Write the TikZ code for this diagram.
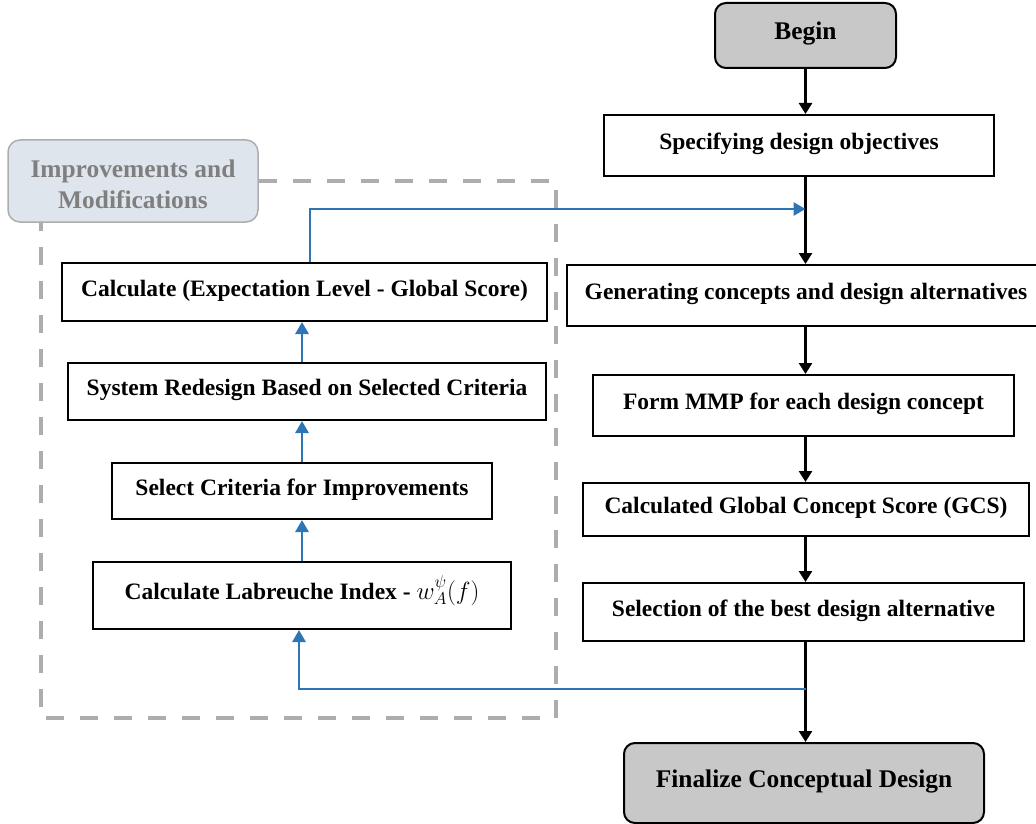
\documentclass[tikz,border=0pt]{standalone}
\usepackage{fontspec}
\setmainfont{Liberation Serif}
\usetikzlibrary{arrows.meta}
\definecolor{termgray}{HTML}{C8C8C8}
\definecolor{notefill}{HTML}{DFE5EC}
\definecolor{notetext}{HTML}{7F7F7F}
\definecolor{framegray}{HTML}{ADADAD}
\definecolor{loopblue}{HTML}{2E75B6}
\begin{document}
\begin{tikzpicture}[x=1pt,y=-1pt,font=\bfseries\fontsize{23.5}{31}\selectfont]
\tikzstyle{box}=[draw,line width=2pt,text height=17pt,text depth=9pt,inner sep=0pt]
\tikzstyle{term}=[box,fill=termgray,rounded corners=11pt,font=\bfseries\fontsize{25.4}{31}\selectfont]
\tikzstyle{note}=[draw=framegray,line width=1.5pt,fill=notefill,text=notetext,rounded corners=12pt,align=center,inner sep=0pt,text height=60pt,text depth=5pt,font=\bfseries\fontsize{25.4}{31}\selectfont]
\tikzstyle{frame}=[draw=framegray,line width=4pt,dash pattern=on 18pt off 16pt]
\tikzstyle{flow}=[line width=2.6pt,-{Triangle[width=13pt,length=11pt]}]
\tikzstyle{back}=[color=loopblue,line width=2.8pt,-{Triangle[width=13pt,length=12pt]}]
\useasboundingbox (0,0) rectangle (1036,824);

% Right column
\node[term,minimum width=181pt,minimum height=65pt] (begin) at (805.5,35.5) {Begin};
\node[box,minimum width=390pt,minimum height=61pt] (spec) at (799,145.5) {Specifying design objectives};
\node[box,minimum width=478pt,minimum height=61pt] (gen) at (806,295.5) {Generating concepts and design alternatives};
\node[box,minimum width=421pt,minimum height=61pt] (mmp) at (803.5,405.5) {Form MMP for each design concept};
\node[box,minimum width=446pt,minimum height=53pt] (gcs) at (806,509.5) {Calculated Global Concept Score (GCS)};
\node[box,minimum width=441pt,minimum height=58pt] (sel) at (803.5,612) {Selection of the best design alternative};
\node[term,minimum width=360pt,minimum height=80pt] (fin) at (804,783) {Finalize Conceptual Design};
\coordinate (col) at (805.5,0);
\coordinate (joinA) at (805.5,209);
\coordinate (joinB) at (805.5,689);
\draw[flow] (begin.south) -- (col |- spec.north);
\draw[flow] (col |- spec.south) -- (col |- gen.north);
\draw[flow] (col |- gen.south) -- (col |- mmp.north);
\draw[flow] (col |- mmp.south) -- (col |- gcs.north);
\draw[flow] (col |- gcs.south) -- (col |- sel.north);
\draw[flow] (col |- sel.south) -- (col |- fin.north);

% Improvement loop
\node[box,minimum width=485pt,minimum height=58pt] (calc) at (304.5,292) {Calculate (Expectation Level - Global Score)};
\node[box,minimum width=478pt,minimum height=57pt] (redes) at (307,391.5) {System Redesign Based on Selected Criteria};
\node[box,minimum width=380pt,minimum height=56pt] (selc) at (302,491) {Select Criteria for Improvements};
\node[box,minimum width=418pt,minimum height=67pt] (labr) at (302,595.5) {Calculate Labreuche Index - $w^{\psi}_{A}(f)$};
\draw[back] (labr.north) -- (labr.north |- selc.south);
\draw[back] (selc.north) -- (selc.north |- redes.south);
\draw[back] (selc.north |- redes.north) -- (selc.north |- calc.south);
\draw[back] ([xshift=5.5pt]calc.north) |- (joinA);
\draw[back] (joinB) -| ([xshift=-3pt]labr.south);

% Dashed frame and its label
\node[note,minimum width=250pt,minimum height=82pt] (mod) at (133,181) {Improvements and\\Modifications};
\coordinate (fr) at (556,718);
\draw[frame] (mod.east) -| (fr) -| ([xshift=34pt]mod.south west);
\end{tikzpicture}
\end{document}
